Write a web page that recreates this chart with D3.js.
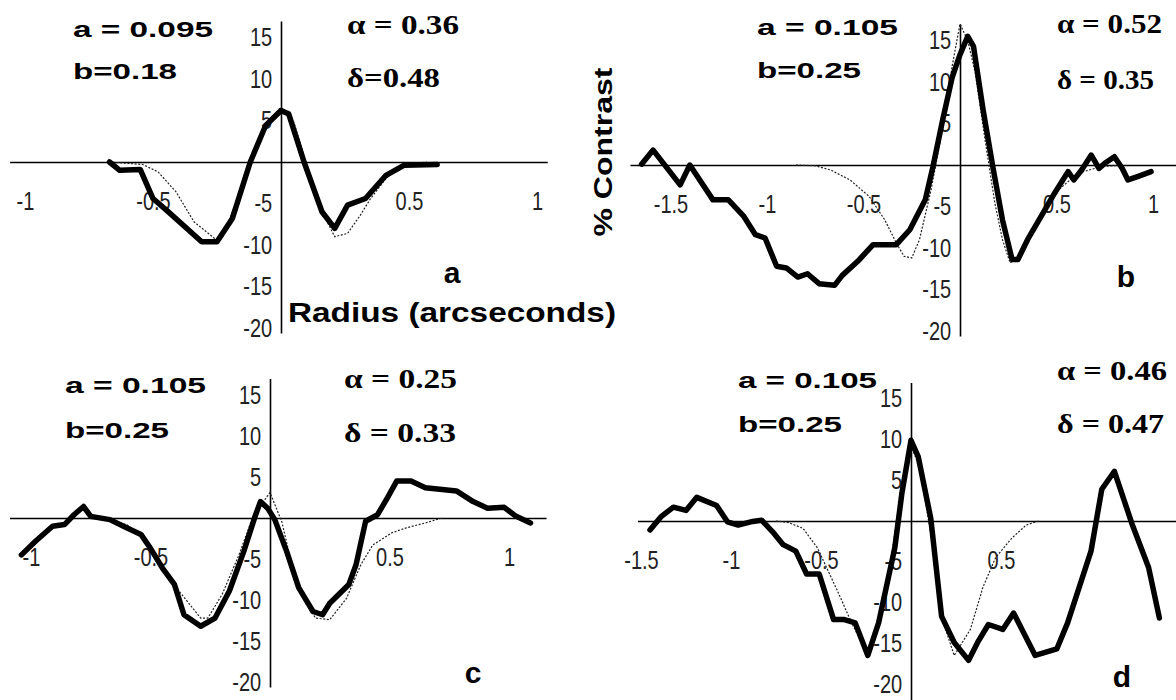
<!DOCTYPE html>
<html>
<head>
<meta charset="utf-8">
<script src="https://cdn.jsdelivr.net/npm/d3@7/dist/d3.min.js"></script>
<style>
  body { margin: 0; background: #fff; }
  svg { display: block; }
</style>
</head>
<body>
<svg id="chart" width="1176" height="700"></svg>
<script>
// ---- values (radius in arcseconds, % contrast) ----
var yTickValues = [15, 10, 5, -5, -10, -15, -20];

var xTicksA = [-1, -0.5, 0.5, 1];
var xTicksB = [-1.5, -1, -0.5, 0.5, 1];
var xTicksC = [-1, -0.5, 0.5, 1];
var xTicksD = [-1.5, -1, -0.5, 0.5];

var fitTextA = ["a = 0.095", "b=0.18"];
var fitTextB = ["a = 0.105", "b=0.25"];
var fitTextC = ["a = 0.105", "b=0.25"];
var fitTextD = ["a = 0.105", "b=0.25"];

var shapeTextA = ["\u03b1 = 0.36", "\u03b4=0.48"];
var shapeTextB = ["\u03b1 = 0.52", "\u03b4 = 0.35"];
var shapeTextC = ["\u03b1 = 0.25", "\u03b4 = 0.33"];
var shapeTextD = ["\u03b1 = 0.46", "\u03b4 = 0.47"];

// measured profiles (thick lines)
var observedA = [[-0.67, 0], [-0.63, -1.0], [-0.55, -0.9], [-0.5, -4.4], [-0.44, -6.0], [-0.31, -9.6],
  [-0.25, -9.6], [-0.19, -6.8], [-0.12, 0], [-0.06, 4.4], [0, 6.2], [0.03, 5.8], [0.09, 0],
  [0.16, -6.0], [0.21, -8.0], [0.26, -5.2], [0.33, -4.4], [0.41, -1.6], [0.48, -0.4], [0.61, -0.3]];
var observedB = [[-1.65, 0.1], [-1.59, 1.8], [-1.45, -2.4], [-1.4, 0], [-1.28, -4.2], [-1.2, -4.2],
  [-1.12, -6.2], [-1.06, -8.4], [-1.01, -8.8], [-0.95, -12.2], [-0.9, -12.4], [-0.84, -13.5],
  [-0.79, -13.1], [-0.73, -14.3], [-0.65, -14.5], [-0.61, -13.3], [-0.53, -11.6], [-0.45, -9.6],
  [-0.33, -9.6], [-0.26, -7.8], [-0.18, -4.2], [-0.14, -0.2], [-0.09, 5.4], [-0.04, 10.6], [0, 13.3],
  [0.04, 15.5], [0.07, 14.3], [0.12, 6.6], [0.17, -0.2], [0.22, -6.6], [0.27, -11.4], [0.3, -11.4],
  [0.35, -9.0], [0.43, -5.8], [0.49, -3.4], [0.56, -0.8], [0.59, -1.8], [0.63, -0.6], [0.68, 1.2],
  [0.72, -0.4], [0.75, 0.2], [0.8, 1.0], [0.84, -0.4], [0.87, -1.8], [0.92, -1.4], [0.99, -0.8]];
var observedC = [[-1.04, -4.5], [-0.98, -2.8], [-0.91, -1.0], [-0.86, -0.8], [-0.82, 0.4], [-0.78, 1.4],
  [-0.75, 0.2], [-0.67, -0.2], [-0.6, -1.2], [-0.54, -2.0], [-0.5, -3.7], [-0.45, -6.1], [-0.4, -8.1],
  [-0.36, -11.8], [-0.29, -13.2], [-0.23, -12.2], [-0.17, -8.9], [-0.11, -4.1], [-0.06, 0.4],
  [-0.04, 2.0], [-0.01, 1.2], [0.02, -0.2], [0.07, -4.1], [0.12, -8.5], [0.18, -11.4], [0.22, -11.8],
  [0.25, -10.4], [0.33, -8.1], [0.36, -5.7], [0.4, -0.4], [0.45, 0.4], [0.49, 2.4], [0.53, 4.5],
  [0.59, 4.5], [0.65, 3.7], [0.78, 3.3], [0.85, 2.0], [0.91, 1.2], [0.98, 1.3], [1.03, 0.2], [1.09, -0.6]];
var observedD = [[-1.45, -1.1], [-1.39, 0.5], [-1.32, 1.7], [-1.25, 1.3], [-1.19, 2.9], [-1.08, 1.9],
  [-1.02, -0.1], [-0.96, -0.5], [-0.89, -0.1], [-0.83, 0.1], [-0.77, -1.3], [-0.71, -2.9], [-0.64, -3.7],
  [-0.58, -6.5], [-0.51, -6.5], [-0.43, -12.1], [-0.37, -12.1], [-0.31, -12.5], [-0.24, -16.5],
  [-0.18, -12.5], [-0.09, -3.3], [-0.05, 3.5], [0, 9.9], [0.04, 7.9], [0.11, 0.3], [0.17, -11.7],
  [0.24, -14.9], [0.32, -17.1], [0.37, -14.9], [0.43, -12.7], [0.51, -13.3], [0.57, -11.3],
  [0.69, -16.5], [0.81, -15.7], [0.87, -12.5], [1.0, -3.7], [1.06, 3.9], [1.13, 6.1], [1.23, -0.5],
  [1.32, -5.7], [1.38, -11.9]];

// model profiles (thin dotted lines)
var modelA = [[-0.67, 0], [-0.54, -0.3], [-0.48, -1.2], [-0.41, -3.6], [-0.34, -7.2], [-0.26, -9.2],
  [-0.23, -9.2], [-0.18, -5.2], [-0.12, 0.3], [-0.06, 4.6], [0, 6.6], [0.05, 4.8], [0.1, -0.2],
  [0.16, -6.0], [0.21, -9.0], [0.26, -8.6], [0.31, -6.4], [0.35, -4.4], [0.41, -2.0], [0.45, -0.8],
  [0.5, -0.3], [0.57, 0]];
var modelB = [[-0.85, 0], [-0.75, -0.1], [-0.67, -0.6], [-0.57, -1.8], [-0.47, -3.8], [-0.39, -6.6],
  [-0.33, -9.4], [-0.29, -11.0], [-0.25, -11.2], [-0.21, -9.0], [-0.15, -3.0], [-0.09, 4.5],
  [-0.04, 12.0], [0, 17.0], [0.04, 15.0], [0.08, 11.0], [0.13, 3.0], [0.18, -4.5], [0.22, -9.0],
  [0.26, -11.8], [0.3, -11.2], [0.37, -7.8], [0.49, -3.4], [0.61, -1.0], [0.73, -0.2], [0.85, 0]];
var modelC = [[-0.7, 0], [-0.6, -0.8], [-0.52, -2.6], [-0.45, -6.3], [-0.37, -9.3], [-0.29, -12.2],
  [-0.26, -12.2], [-0.2, -9.3], [-0.13, -4.5], [-0.07, 0.3], [0, 3.1], [0.05, -0.5], [0.11, -8.1],
  [0.19, -12.2], [0.25, -12.4], [0.32, -9.8], [0.38, -5.7], [0.43, -3.3], [0.51, -1.8], [0.57, -1.2],
  [0.65, -0.6], [0.72, 0]];
var modelD = [[-0.75, 0], [-0.68, -0.2], [-0.6, -0.9], [-0.52, -3.3], [-0.41, -8.5], [-0.33, -12.5],
  [-0.25, -16.0], [-0.2, -14.5], [-0.13, -7.5], [-0.07, 1.5], [0, 9.2], [0.05, 6.5], [0.12, -3.0],
  [0.18, -12.5], [0.24, -16.5], [0.33, -13.3], [0.4, -8.1], [0.47, -4.5], [0.56, -2.1], [0.64, -0.5],
  [0.71, 0]];

// ---- layout of the four panels (pixels) ----
var panels = [
  { letter: "a", observed: observedA, model: modelA, xTicks: xTicksA, fit: fitTextA, shape: shapeTextA,
    origin: [281, 162], unit: [256, 8.3], xExtent: [-1.06, 1.04], yExtent: [-20.6, 17],
    fitAt: [73, 37, 79], fitWidth: [140, 104], shapeAt: [347, 34, 87], shapeWidth: [112, 93], letterAt: [452, 283] },
  { letter: "b", observed: observedB, model: modelB, xTicks: xTicksB, fit: fitTextB, shape: shapeTextB,
    origin: [960, 165], unit: [193, 8.3], xExtent: [-1.71, 1.12], yExtent: [-20.6, 17],
    fitAt: [757, 35, 78], fitWidth: [141, 104], shapeAt: [1057, 33, 89], shapeWidth: [105, 97], letterAt: [1126, 287] },
  { letter: "c", observed: observedC, model: modelC, xTicks: xTicksC, fit: fitTextC, shape: shapeTextC,
    origin: [270, 518], unit: [239, 8.2], xExtent: [-1.09, 1.155], yExtent: [-20.6, 17],
    fitAt: [65, 393, 438], fitWidth: [141, 104], shapeAt: [344, 388, 442], shapeWidth: [113, 112], letterAt: [473, 683] },
  { letter: "d", observed: observedD, model: modelD, xTicks: xTicksD, fit: fitTextD, shape: shapeTextD,
    origin: [911, 521], unit: [180, 8.15], xExtent: [-1.52, 1.5], yExtent: [-21.9, 17],
    fitAt: [738, 388, 432], fitWidth: [139, 104], shapeAt: [1057, 380, 433], shapeWidth: [110, 107], letterAt: [1122, 687] }
];

var tickFont = "'Liberation Sans', Arial, sans-serif";
var boldFont = "'Liberation Sans', Arial, sans-serif";
var serifFont = "'Liberation Serif', 'Times New Roman', serif";

var svg = d3.select("#chart");

/**
 * Draws one panel: axes crossing at the origin, tick labels,
 * the measured profile and the dotted model profile
 */
function drawPanel(p) {
  var x = d3.scaleLinear().domain(p.xExtent)
    .range([p.origin[0] + p.xExtent[0] * p.unit[0], p.origin[0] + p.xExtent[1] * p.unit[0]]);
  var y = d3.scaleLinear().domain(p.yExtent)
    .range([p.origin[1] - p.yExtent[0] * p.unit[1], p.origin[1] - p.yExtent[1] * p.unit[1]]);

  var g = svg.append("g").attr("class", "panel-" + p.letter);

  // horizontal axis through y = 0
  var xAxis = d3.axisBottom(x).tickValues(p.xTicks).tickSizeInner(0).tickSizeOuter(0).tickPadding(30)
    .tickFormat(function (d) { return "" + d; });
  var gx = g.append("g").attr("transform", "translate(0," + y(0) + ")").call(xAxis);

  // vertical axis through x = 0
  var yAxis = d3.axisLeft(y).tickValues(yTickValues).tickSizeInner(0).tickSizeOuter(0).tickPadding(11)
    .tickFormat(function (d) { return "" + d; });
  var gy = g.append("g").attr("transform", "translate(" + x(0) + ",0)").call(yAxis);

  // narrow, light tick numbers as in the original
  [gx, gy].forEach(function (a) {
    a.select(".domain").attr("stroke", "#000").attr("stroke-width", 1.6);
    a.selectAll("text").attr("font-family", tickFont).attr("font-size", 25)
      .attr("fill", "#222").attr("transform", "scale(0.8,1)");
  });

  var line = d3.line()
    .x(function (d) { return x(d[0]); })
    .y(function (d) { return y(d[1]); })
    .curve(d3.curveLinear);

  g.append("path").datum(p.model).attr("d", line)
    .attr("fill", "none").attr("stroke", "#222").attr("stroke-width", 1.2)
    .attr("stroke-dasharray", "2,1.6");

  g.append("path").datum(p.observed).attr("d", line)
    .attr("fill", "none").attr("stroke", "#000").attr("stroke-width", 5.5)
    .attr("stroke-linejoin", "round").attr("stroke-linecap", "round");

  // fit parameters (bold sans) and shape parameters (serif)
  p.fit.forEach(function (t, i) {
    g.append("text").attr("x", p.fitAt[0]).attr("y", p.fitAt[i + 1])
      .attr("font-family", boldFont).attr("font-weight", "bold").attr("font-size", 22)
      .attr("textLength", p.fitWidth[i]).attr("lengthAdjust", "spacingAndGlyphs")
      .text(t);
  });
  p.shape.forEach(function (t, i) {
    g.append("text").attr("x", p.shapeAt[0]).attr("y", p.shapeAt[i + 1])
      .attr("font-family", serifFont).attr("font-weight", "bold").attr("font-size", 28)
      .attr("textLength", p.shapeWidth[i]).attr("lengthAdjust", "spacingAndGlyphs")
      .text(t);
  });

  g.append("text").attr("x", p.letterAt[0]).attr("y", p.letterAt[1])
    .attr("text-anchor", "middle").attr("font-family", boldFont).attr("font-weight", "bold")
    .attr("font-size", 30).text(p.letter);
}

panels.forEach(drawPanel);

// shared axis titles
svg.append("text").attr("x", 288).attr("y", 322)
  .attr("font-family", boldFont).attr("font-weight", "bold").attr("font-size", 27)
  .attr("textLength", 328).attr("lengthAdjust", "spacingAndGlyphs")
  .text("Radius (arcseconds)");

svg.append("text").attr("transform", "translate(612,152) rotate(-90)")
  .attr("text-anchor", "middle")
  .attr("font-family", boldFont).attr("font-weight", "bold").attr("font-size", 26)
  .attr("textLength", 169).attr("lengthAdjust", "spacingAndGlyphs")
  .text("% Contrast");
</script>
</body>
</html>
